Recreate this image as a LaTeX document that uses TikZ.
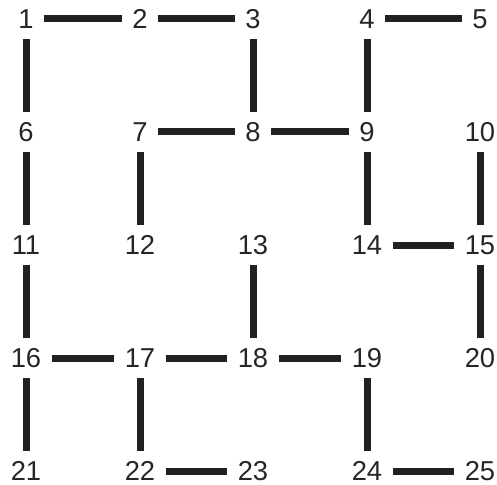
\documentclass[tikz,border=0pt]{standalone}
\usepackage{fontspec}
\setmainfont{Liberation Sans}
\begin{document}
\begin{tikzpicture}[x=0.75pt,y=-0.75pt,
  num/.style={inner sep=0pt, outer sep=0pt, font=\fontsize{20.5pt}{22pt}\selectfont, text=black!85},
  link/.style={line width=5.25pt, draw=black!87, line cap=butt, shorten <=8pt, shorten >=8pt}]
\useasboundingbox (0,0) rectangle (497,485);
\foreach \r [count=\ri from 0] in {19,132,245,358,471}{
  \foreach \c [count=\ci from 1] in {26,140,253,367,480}{
    \pgfmathtruncatemacro{\k}{\ri*5+\ci}
    \node[num] (n\k) at (\c,\r) {\k};
  }
}
\foreach \a/\b in {1/2,2/3,4/5,1/6,3/8,4/9,7/8,8/9,6/11,7/12,9/14,10/15,14/15,11/16,13/18,15/20,16/17,17/18,18/19,16/21,17/22,19/24,22/23,24/25}{
  \draw[link] (n\a) -- (n\b);
}
\end{tikzpicture}
\end{document}
